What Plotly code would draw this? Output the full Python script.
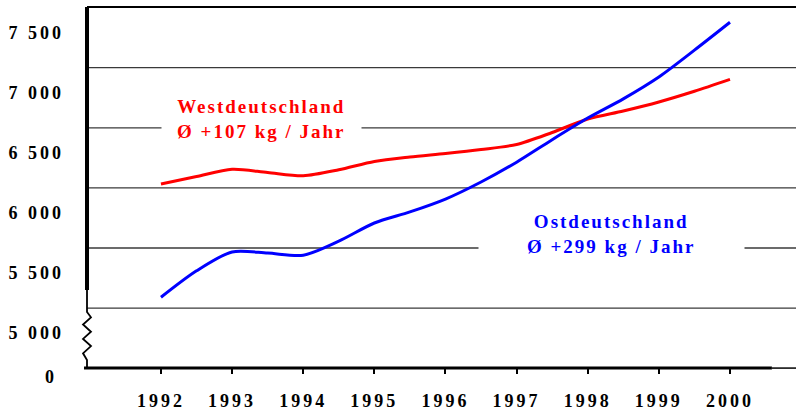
import plotly.graph_objects as go

# ---- data ----
periods = [1992.0, 1992.5, 1993.0, 1993.5, 1994.0, 1994.5, 1995.0, 1995.5, 1996.0,
           1996.5, 1997.0, 1997.5, 1998.0, 1998.5, 1999.0, 1999.5, 2000.0]
west = [6282, 6345, 6405, 6378, 6351, 6401, 6470, 6507, 6536,
        6569, 6611, 6711, 6823, 6890, 6965, 7054, 7153]
ost = [5340, 5560, 5717, 5708, 5690, 5807, 5958, 6050, 6157,
       6299, 6464, 6651, 6831, 6991, 7173, 7396, 7628]

year_ticks = [1992, 1993, 1994, 1995, 1996, 1997, 1998, 1999, 2000]
year_labels = ["1992", "1993", "1994", "1995", "1996", "1997", "1998", "1999", "2000"]
y_ticks = [5000, 5500, 6000, 6500, 7000, 7500]
y_labels = ["5 000", "5 500", "6 000", "6 500", "7 000", "7 500"]
grid_values = [5250, 5750, 6250, 6750, 7250]

west_label = "Westdeutschland<br>Ø +107 kg / Jahr"
ost_label = "Ostdeutschland<br>Ø +299 kg / Jahr"

FONT = "Liberation Serif, Times New Roman, serif"

fig = go.Figure()
fig.add_trace(go.Scatter(x=periods, y=west, mode="lines",
                         line=dict(color="#FF0000", width=3, shape="spline", smoothing=0.8),
                         name="Westdeutschland", hoverinfo="skip"))
fig.add_trace(go.Scatter(x=periods, y=ost, mode="lines",
                         line=dict(color="#0000FF", width=3, shape="spline", smoothing=0.8),
                         name="Ostdeutschland", hoverinfo="skip"))

shapes = []
for g in grid_values:
    shapes.append(dict(type="line", xref="paper", yref="y", x0=0, x1=1, y0=g, y1=g,
                       line=dict(color="#3a3a3a", width=1.3), layer="below"))
# frame / axes
shapes += [
    dict(type="line", xref="paper", yref="paper", x0=0, x1=1, y0=1, y1=1,
         line=dict(color="black", width=2)),
    dict(type="line", xref="paper", yref="paper", x0=0, x1=0, y0=1.0, y1=0.2139,
         line=dict(color="black", width=4)),
    dict(type="path", xref="paper", yref="paper",
         path="M 0,0.2139 L 0,0.1528 L 0.0056,0.138 L -0.0056,0.118 L 0.0056,0.098 "
              "L -0.0056,0.078 L 0.0056,0.058 L -0.0056,0.038 L 0,0.0194 L 0,-0.003",
         line=dict(color="black", width=1.8)),
    dict(type="line", xref="paper", yref="paper", x0=-0.0042, x1=0.966, y0=-0.003, y1=-0.003,
         line=dict(color="black", width=3)),
    dict(type="line", xref="paper", yref="paper", x0=0.966, x1=1, y0=-0.003, y1=-0.003,
         line=dict(color="black", width=1.5)),
]

annotations = [
    dict(x=1993.343, y=6823, xref="x", yref="y", text=west_label, showarrow=False,
         font=dict(family=FONT, size=19, color="#FF0000", weight="bold"),
         bgcolor="white", width=197, height=46, align="center", xshift=5),
    dict(x=1998.306, y=5867, xref="x", yref="y", text=ost_label, showarrow=False,
         font=dict(family=FONT, size=19, color="#0000FF", weight="bold"),
         bgcolor="white", width=263, height=46, align="center", xshift=2),
    dict(x=0, y=0, xref="paper", yref="paper", text="0", showarrow=False,
         xanchor="right", yanchor="middle", xshift=-30, yshift=-10,
         font=dict(family=FONT, size=18, color="black", weight="bold")),
]

fig.update_layout(
    width=796, height=410,
    margin=dict(l=87, r=0, t=7, b=43, autoexpand=False),
    paper_bgcolor="white", plot_bgcolor="white",
    showlegend=False, hovermode=False,
    font=dict(family=FONT, color="black"),
    shapes=shapes, annotations=annotations,
    xaxis=dict(range=[1990.96, 2000.928], tickmode="array", tickvals=year_ticks,
               ticktext=year_labels, ticks="outside", ticklen=6, tickwidth=2,
               tickcolor="black", showline=False, showgrid=False, zeroline=False,
               ticklabelstandoff=11, automargin=False,
               tickfont=dict(family=FONT, size=18, color="black", weight="bold")),
    yaxis=dict(range=[4760, 7755], tickmode="array", tickvals=y_ticks, ticktext=y_labels,
               ticks="", showline=False, showgrid=False, zeroline=False,
               ticklabelstandoff=22, ticklabelshift=-5, automargin=False,
               tickfont=dict(family=FONT, size=18, color="black", weight="bold")),
)

post = """
document.body.style.margin = '0';
document.body.style.overflow = 'hidden';
var gd = document.getElementById('{plot_id}');
function sp(){
  gd.querySelectorAll('.xtick text, .ytick text').forEach(function(t){t.style.letterSpacing='3px';});
  gd.querySelectorAll('.annotation-text').forEach(function(t){t.style.letterSpacing='2px';});
}
sp();
if (gd.on) { gd.on('plotly_afterplot', sp); }
"""

fig.write_html("out.html", post_script=post, config={"displayModeBar": False})
